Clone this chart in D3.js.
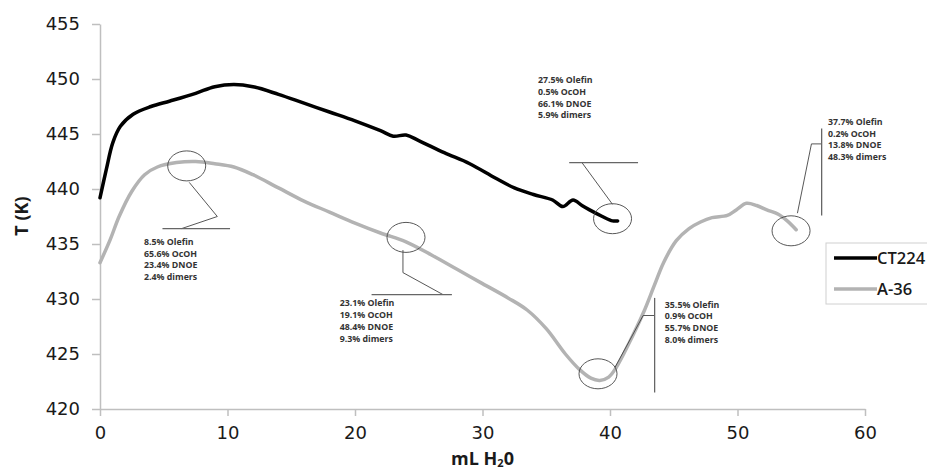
<!DOCTYPE html>
<html lang="en">
<head>
<meta charset="UTF-8">
<title>T vs mL H2O</title>
<script src="https://cdn.jsdelivr.net/npm/d3@7"></script>
<style>
  body { margin: 0; background: #fff; }
  svg { display: block; }
  .tick text { font-family: "DejaVu Sans", sans-serif; font-size: 18px; fill: #1a1a1a; }
  .axis path, .axis line { stroke: #bfbfbf; stroke-width: 1.5px; }
  .axis-title { font-family: "Open Sans", sans-serif; font-size: 18px; font-weight: bold; fill: #1a1a1a; }
  .note { font-family: "Open Sans", sans-serif; font-size: 8.8px; font-weight: bold; fill: #333; }
  .legend text { font-family: "Open Sans", sans-serif; font-size: 16.5px; font-weight: 600; fill: #1a1a1a; }
</style>
</head>
<body>
<div id="chart"></div>
<script>
// series data: [mL H2O, T (K)]
const ct224 = [
  [0, 439.2], [0.5, 441.8], [1, 444.2], [1.6, 445.7], [2.6, 446.8], [4, 447.5],
  [5.5, 448.0], [7.5, 448.7], [9, 449.3], [10.5, 449.5], [12, 449.3], [14, 448.6],
  [16, 447.8], [18, 447.0], [20, 446.2], [22, 445.3], [23, 444.8], [24, 444.9],
  [25, 444.4], [27, 443.3], [29, 442.3], [31, 441.0], [32.5, 440.1], [34, 439.5],
  [35.5, 439.0], [36.3, 438.4], [37.1, 439.0], [37.8, 438.5], [38.4, 438.1],
  [39.4, 437.5], [40.2, 437.1], [40.6, 437.1]
];
const a36 = [
  [0, 433.3], [0.8, 435.4], [1.5, 437.5], [2.5, 439.8], [3.5, 441.3], [4.5, 442.0],
  [6, 442.4], [7.5, 442.5], [9, 442.3], [10.5, 442.0], [12, 441.3], [14, 440.1],
  [16, 438.9], [18, 437.9], [20, 436.9], [22, 436.0], [24, 435.2], [26, 434.0],
  [28, 432.7], [30, 431.4], [32, 430.1], [33.5, 429.0], [35, 427.3], [36.5, 425.0],
  [37.6, 423.6], [38.5, 422.8], [39.2, 422.6], [39.9, 422.9], [40.5, 423.8],
  [41.5, 426.0], [42.6, 428.7], [43.5, 431.3], [44.2, 433.3], [45.2, 435.3],
  [46.2, 436.4], [47.1, 437.0], [48, 437.4], [49.2, 437.6], [49.9, 438.1],
  [50.7, 438.7], [51.5, 438.5], [52.3, 438.1], [53.2, 437.7], [53.9, 437.1], [54.6, 436.3]
];
const seriesNames = ["CT224", "A-36"];
const xTicks = [0, 10, 20, 30, 40, 50, 60];
const yTicks = [420, 425, 430, 435, 440, 445, 450, 455];

// composition call-outs: circled point, leader line, label lines (data units)
const notes = [
  { circle: [6.8, 442.1], leader: [[7.0, 440.6], [9.2, 437.5], [6.4, 436.4]],
    bar: [[4.9, 436.4], [10.2, 436.4]], at: [3.45, 435.2],
    lines: ["8.5% Olefin", "65.6% OcOH", "23.4% DNOE", "2.4% dimers"] },
  { circle: [24.0, 435.6], leader: [[23.76, 434.45], [23.76, 432.4], [26.9, 430.4]],
    bar: [[21.3, 430.4], [27.6, 430.4]], at: [18.8, 429.6],
    lines: ["23.1% Olefin", "19.1% OcOH", "48.4% DNOE", "9.3% dimers"] },
  { circle: [40.2, 437.3], leader: [[40.2, 438.6], [37.8, 442.4]],
    bar: [[36.8, 442.4], [42.2, 442.4]], at: [34.35, 449.9],
    lines: ["27.5% Olefin", "0.5% OcOH", "66.1% DNOE", "5.9% dimers"] },
  { circle: [39.06, 423.2], leader: [[40.4, 423.8], [42.6, 428.5], [43.5, 428.5]],
    bar: [[43.5, 430.1], [43.5, 421.5]], at: [44.3, 429.5],
    lines: ["35.5% Olefin", "0.9% OcOH", "55.7% DNOE", "8.0% dimers"] },
  { circle: [54.2, 436.2], leader: [[54.7, 437.8], [55.8, 444.1], [56.6, 444.1]],
    bar: [[56.6, 445.5], [56.6, 437.6]], at: [57.1, 446.1],
    lines: ["37.7% Olefin", "0.2% OcOH", "13.8% DNOE", "48.3% dimers"] }
];

const width = 927, height = 470;
const margin = { top: 24, right: 62, bottom: 61, left: 100 };

const x = d3.scaleLinear().domain([0, 60]).range([margin.left, width - margin.right]);
const y = d3.scaleLinear().domain([420, 455]).range([height - margin.bottom, margin.top]);
const color = d3.scaleOrdinal().domain(seriesNames).range(["#000000", "#b3b3b3"]);

const svg = d3.select("#chart").append("svg")
  .attr("width", width)
  .attr("height", height);

// axes
svg.append("g")
  .attr("class", "axis")
  .attr("transform", `translate(0,${y(420)})`)
  .call(d3.axisBottom(x).tickValues(xTicks).tickSize(7).tickPadding(9).tickSizeOuter(0))
  .call(g => g.selectAll(".tick text").attr("dy", "0.8em"));

svg.append("g")
  .attr("class", "axis")
  .attr("transform", `translate(${x(0)},0)`)
  .call(d3.axisLeft(y).tickValues(yTicks).tickSize(8).tickPadding(12).tickSizeOuter(0));

// axis titles
svg.append("text")
  .attr("class", "axis-title")
  .attr("x", x(30))
  .attr("y", 465)
  .attr("font-size", "17px")
  .html('mL H<tspan font-size="11px" dy="2">2</tspan><tspan dy="-2">0</tspan>');

svg.select(".axis-title").attr("text-anchor", "middle");

svg.append("text")
  .attr("class", "axis-title")
  .attr("text-anchor", "middle")
  .attr("transform", `translate(28,${216})rotate(-90)`)
  .text("T (K)");

// lines
const line = d3.line()
  .x(d => x(d[0]))
  .y(d => y(d[1]))
  .curve(d3.curveCatmullRom.alpha(0.5));

[[a36, "A-36"], [ct224, "CT224"]].forEach(([data, name]) => {
  svg.append("path")
    .datum(data)
    .attr("fill", "none")
    .attr("stroke", color(name))
    .attr("stroke-width", 3.5)
    .attr("stroke-linejoin", "round")
    .attr("stroke-linecap", "round")
    .attr("d", line);
});

// call-outs
const noteG = svg.append("g");
notes.forEach(n => {
  noteG.append("ellipse")
    .attr("cx", x(n.circle[0]))
    .attr("cy", y(n.circle[1]))
    .attr("rx", 19)
    .attr("ry", 15)
    .attr("fill", "none")
    .attr("stroke", "#444")
    .attr("stroke-width", 0.9);

  noteG.append("path")
    .attr("d", d3.line().x(d => x(d[0])).y(d => y(d[1]))(n.leader))
    .attr("fill", "none")
    .attr("stroke", "#444")
    .attr("stroke-width", 0.9);

  noteG.append("path")
    .attr("d", d3.line().x(d => x(d[0])).y(d => y(d[1]))(n.bar))
    .attr("fill", "none")
    .attr("stroke", "#666")
    .attr("stroke-width", 1.3);

  const t = noteG.append("text")
    .attr("class", "note")
    .attr("x", x(n.at[0]))
    .attr("y", y(n.at[1]) + 3);
  n.lines.forEach((s, i) => {
    t.append("tspan")
      .attr("x", x(n.at[0]))
      .attr("dy", i === 0 ? 0 : 11.7)
      .text(s);
  });
});

// legend
const legend = svg.append("g").attr("class", "legend");
legend.append("rect")
  .attr("x", 826).attr("y", 243)
  .attr("width", 110).attr("height", 61)
  .attr("fill", "#fff")
  .attr("stroke", "#d0d0d0");

seriesNames.forEach((name, i) => {
  const ly = 258 + i * 31;
  legend.append("line")
    .attr("x1", 834).attr("x2", 877)
    .attr("y1", ly).attr("y2", ly)
    .attr("stroke", color(name))
    .attr("stroke-width", 3.5);
  legend.append("text")
    .attr("x", 877)
    .attr("y", ly)
    .attr("dy", "0.35em")
    .text(name);
});
</script>
</body>
</html>
